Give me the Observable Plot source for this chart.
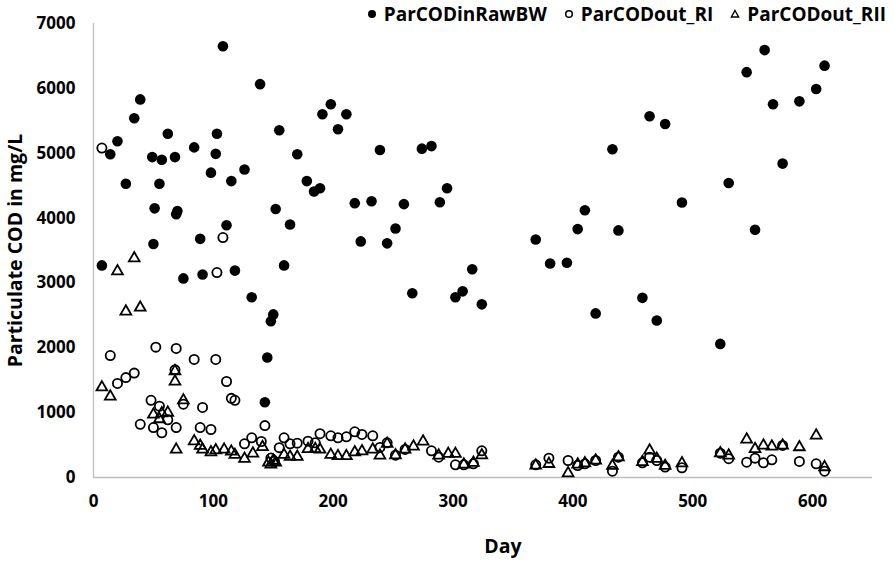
<!DOCTYPE html>
<html>
<head>
<meta charset="utf-8">
<script src="https://cdn.jsdelivr.net/npm/d3@7"></script>
<script src="https://cdn.jsdelivr.net/npm/@observablehq/plot@0.6"></script>
<style>
  html, body { margin: 0; padding: 0; background: #fff; }
  #wrap { position: relative; width: 895px; height: 563px; font-family: "Open Sans", Lato, sans-serif; }
  #legend { position: absolute; top: 1px; right: 9px; display: flex; align-items: center; font-weight: bold; font-size: 19px; color: #000; white-space: nowrap; }
  #legend .item { display: flex; align-items: center; margin-left: 17px; }
  #legend svg { margin-right: 7px; }
</style>
</head>
<body>
<div id="wrap">
  <div id="chart"></div>
  <div id="legend"></div>
</div>
<script>
// ---- Data ----
const seriesNames = ["ParCODinRawBW", "ParCODout_RI", "ParCODout_RII"];

const rawDays = [7,14,20,27,34,39,49,50,51,55,57,62,68,69,70,75,84,89,91,98,102,103,108,111,115,118,126,132,139,143,145,148,150,152,155,159,164,170,178,184,189,191,198,204,211,218,223,232,239,245,252,259,266,274,282,289,295,302,308,316,324,369,381,395,404,410,419,433,438,458,464,470,477,491,523,530,545,552,560,567,575,589,603,610];
const rawCOD  = [3270,4985,5185,4530,5540,5830,4940,3600,4150,4530,4900,5300,4940,4060,4110,3070,5090,3680,3130,4700,4990,5300,6650,3890,4570,3190,4750,2780,6065,1160,1850,2410,2515,4140,5355,3270,3900,4985,4570,4410,4460,5600,5755,5370,5600,4230,3640,4260,5050,3610,3840,4215,2840,5070,5110,4245,4460,2780,2870,3210,2670,3670,3300,3310,3830,4120,2530,5060,3810,2770,5570,2420,5450,4240,2060,4540,6250,3820,6590,5755,4840,5800,5990,6350];

const riDays = [7,14,20,27,34,39,48,50,52,55,57,62,68,69,69,75,84,89,91,98,102,103,108,111,115,118,126,132,140,143,148,151,155,159,164,170,179,185,189,198,204,211,218,224,233,239,245,252,260,282,288,302,309,317,324,369,380,396,404,410,419,433,438,458,464,470,477,491,523,530,545,552,559,566,575,589,603,610];
const riCOD  = [5080,1880,1450,1540,1610,820,1190,770,2010,1100,690,890,1660,1990,770,1130,1820,770,1080,740,1820,3160,3700,1480,1220,1190,520,612,555,800,300,250,460,612,520,530,560,535,675,643,612,628,705,664,643,463,535,344,432,412,313,196,196,211,412,196,298,262,185,211,262,97,313,227,313,262,160,150,375,290,236,298,227,273,494,247,211,97];

const riiDays = [7,14,20,27,34,39,50,55,57,62,68,68,69,75,84,89,91,98,102,109,115,118,126,133,141,146,148,150,152,159,164,170,179,185,189,198,204,211,218,224,233,239,245,252,260,267,275,288,296,302,309,317,324,369,380,396,404,410,419,433,438,458,464,470,477,491,523,530,545,552,559,566,575,589,603,610];
const riiCOD  = [1390,1250,3180,2560,3380,2620,970,900,990,1000,1640,1480,430,1190,560,490,430,390,420,430,400,350,290,370,470,230,200,260,230,350,320,320,440,440,430,350,330,330,390,405,432,340,520,344,432,478,555,340,365,365,200,227,344,185,210,66,200,220,262,180,313,240,417,290,180,220,375,340,586,440,494,478,494,468,648,160];

const xTicks = [0,100,200,300,400,500,600];
const yTicks = [0,1000,2000,3000,4000,5000,6000,7000];

const raw = rawDays.map((d, i) => ({day: d, cod: rawCOD[i]}));
const ri  = riDays.map((d, i) => ({day: d, cod: riCOD[i]}));
const rii = riiDays.map((d, i) => ({day: d, cod: riiCOD[i]}));

const axisColor = "#bfbfbf";

const chart = Plot.plot({
  width: 895,
  height: 563,
  marginTop: 23,
  marginLeft: 93,
  marginRight: 23,
  marginBottom: 86,
  style: { fontFamily: "'Open Sans', Lato, sans-serif", fontSize: "17px", fontWeight: "bold", color: "#000", background: "#fff" },
  x: { domain: [0, 650] },
  y: { domain: [0, 7000] },
  marks: [
    Plot.ruleX([0], { stroke: axisColor, strokeWidth: 1.3 }),
    Plot.ruleY([0], { stroke: axisColor, strokeWidth: 1.3 }),
    Plot.axisY({ ticks: yTicks, tickSize: 0, tickPadding: 18, label: null, tickFormat: d => String(d), fill: "#000" }),
    Plot.axisX({ ticks: xTicks, tickSize: 0, tickPadding: 17, label: null, tickFormat: d => String(d), fill: "#000" }),
    Plot.text(["Particulate COD in mg/L"], { frameAnchor: "left", textAnchor: "middle", rotate: -90, dx: -78, fontSize: 19.5, fontWeight: "bold", fill: "#000" }),
    Plot.text(["Day"], { frameAnchor: "bottom", dy: 75, dx: 20, fontSize: 19.5, fontWeight: "bold", fill: "#000" }),
    Plot.dot(raw, { x: "day", y: "cod", r: 5.3, fill: "#000", stroke: "none" }),
    Plot.dot(ri, { x: "day", y: "cod", r: 4.6, fill: "none", stroke: "#000", strokeWidth: 1.8 }),
    Plot.dot(rii, { x: "day", y: "cod", symbol: "triangle", r: 4, fill: "none", stroke: "#000", strokeWidth: 1.8 })
  ]
});
document.getElementById("chart").appendChild(chart);

// Legend
const legendMarkers = [
  `<svg width="10" height="10"><circle cx="5" cy="5" r="4" fill="#000"/></svg>`,
  `<svg width="10" height="10"><circle cx="5" cy="5" r="3.3" fill="none" stroke="#000" stroke-width="1.5"/></svg>`,
  `<svg width="10" height="10"><path d="M5,1.5 L8.6,8 L1.4,8 Z" fill="none" stroke="#000" stroke-width="1.4"/></svg>`
];
const legend = document.getElementById("legend");
seriesNames.forEach((name, i) => {
  const item = document.createElement("div");
  item.className = "item";
  item.innerHTML = legendMarkers[i] + `<span>${name}</span>`;
  legend.appendChild(item);
});
</script>
</body>
</html>
